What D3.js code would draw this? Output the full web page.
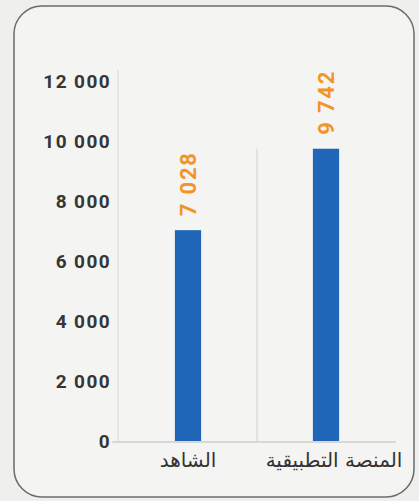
<!DOCTYPE html>
<html>
<head>
<meta charset="UTF-8">
<title>Bar chart</title>
<script src="https://d3js.org/d3.v7.min.js"></script>
<style>
  html, body { margin:0; padding:0; background:#efefed; }
  svg { display:block; }
</style>
</head>
<body>
<div id="chart"></div>
<script>
// data
const categories = ['الشاهد', 'المنصة التطبيقية'];
const values = [7028, 9742];
const yTicks = [0, 2000, 4000, 6000, 8000, 10000, 12000];

const W = 419, H = 501;
const fmt = v => d3.format(',')(v).replace(/,/g, ' ');

const svg = d3.select('#chart').append('svg')
  .attr('width', W).attr('height', H);

// card
svg.append('rect')
  .attr('x', 14).attr('y', 6)
  .attr('width', 400).attr('height', 491)
  .attr('rx', 28).attr('ry', 28)
  .attr('fill', '#f4f4f2')
  .attr('stroke', '#6b6b6b')
  .attr('stroke-width', 1.5);

const y = d3.scaleLinear().domain([0, 12000]).range([441, 81]);
const x = d3.scaleBand().domain(categories).range([119, 395]);
const barW = x.bandwidth() * 0.19;

const g = svg.append('g');

// left axis line + separators
g.append('line')
  .attr('x1', 118).attr('x2', 118)
  .attr('y1', y(12000) - 11).attr('y2', y(0))
  .attr('stroke', '#e0e0de').attr('stroke-width', 1.5);

g.selectAll('line.sep')
  .data(categories.slice(1))
  .enter().append('line')
  .attr('class', 'sep')
  .attr('x1', d => x(d)).attr('x2', d => x(d))
  .attr('y1', y(d3.max(values))).attr('y2', y(0))
  .attr('stroke', '#dcdcda').attr('stroke-width', 1.5);

// y tick labels
g.selectAll('text.tick')
  .data(yTicks)
  .enter().append('text')
  .attr('class', 'tick')
  .attr('x', 111)
  .attr('y', d => y(d))
  .attr('dy', '0.36em')
  .attr('text-anchor', 'end')
  .attr('font-family', 'Roboto, "DejaVu Sans", sans-serif')
  .attr('font-weight', 'bold')
  .attr('font-size', 19)
  .attr('letter-spacing', 1.4)
  .attr('fill', '#363636')
  .text(fmt);

// bars
g.selectAll('rect.bar')
  .data(values)
  .enter().append('rect')
  .attr('class', 'bar')
  .attr('x', (d, i) => x(categories[i]) + (x.bandwidth() - barW) / 2)
  .attr('width', barW)
  .attr('y', d => y(d))
  .attr('height', d => y(0) - y(d))
  .attr('fill', '#1f66b8');

// baseline
g.append('line')
  .attr('x1', 112).attr('x2', 396)
  .attr('y1', y(0) + 1).attr('y2', y(0) + 1)
  .attr('stroke', '#cfcfcd').attr('stroke-width', 1.5);

// value labels (rotated)
g.selectAll('text.val')
  .data(values)
  .enter().append('text')
  .attr('class', 'val')
  .attr('transform', (d, i) => {
    const cx = x(categories[i]) + x.bandwidth() / 2;
    return `translate(${cx},${y(d) - 14}) rotate(-90)`;
  })
  .attr('dy', '0.36em')
  .attr('text-anchor', 'start')
  .attr('font-family', 'Roboto, "DejaVu Sans", sans-serif')
  .attr('font-weight', 'bold')
  .attr('font-size', 22)
  .attr('letter-spacing', 1.8)
  .attr('fill', '#f29426')
  .text(fmt);

// category labels
g.selectAll('text.cat')
  .data(categories)
  .enter().append('text')
  .attr('class', 'cat')
  .attr('x', (d, i) => x(d) + x.bandwidth() / 2 + i * 8)
  .attr('y', 467)
  .attr('text-anchor', 'middle')
  .attr('direction', 'rtl')
  .attr('font-family', '"DejaVu Sans", sans-serif')
  .attr('font-size', 20)
  .attr('fill', '#333')
  .text(d => d);
</script>
</body>
</html>
